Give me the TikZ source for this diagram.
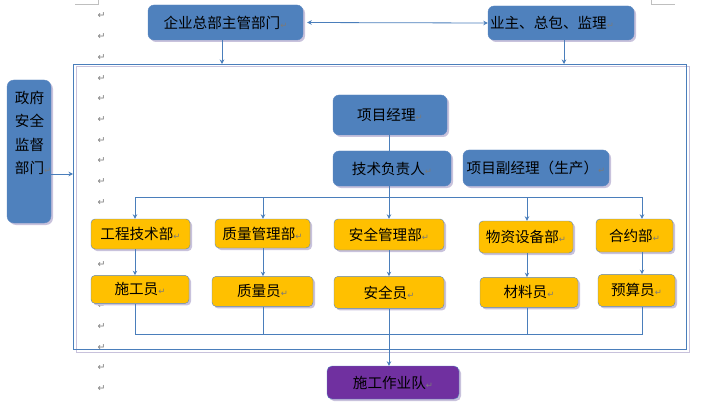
\documentclass[tikz,border=0pt]{standalone}
\usepackage{fontspec}
\setmainfont{Noto Sans CJK SC}
\newfontfamily\symfont{DejaVu Sans}
\usetikzlibrary{arrows.meta, positioning, shadows}
\definecolor{boxblue}{HTML}{4F81BD}
\definecolor{boxedge}{HTML}{5B86C0}
\definecolor{boxyellow}{HTML}{FFC000}
\definecolor{boxpurple}{HTML}{7030A0}
\definecolor{linkblue}{HTML}{4A7EBB}
\definecolor{lavshadow}{HTML}{C8C2DC}
\definecolor{markgray}{HTML}{7A7A7A}
\definecolor{cropgray}{HTML}{BFBFBF}
\newcommand{\retmark}{{\symfont\fontsize{8.5}{8.5}\selectfont\textcolor{markgray}{↵}}}

\begin{document}
\begin{tikzpicture}[x=1pt, y=-1pt, font=\fontsize{14.6}{16}\selectfont,
    >={Stealth[length=4.5pt,width=4.5pt]},
    link/.style={draw=linkblue, line width=0.8pt},
    bluebox/.style={draw=boxedge, fill=boxblue, rounded corners=6pt, inner sep=2pt,
        drop shadow={shadow xshift=2pt, shadow yshift=-2pt, fill=lavshadow, opacity=1}},
    yellowbox/.style={draw=boxedge, fill=boxyellow, rounded corners=4pt, inner sep=2pt,
        drop shadow={shadow xshift=2pt, shadow yshift=-2pt, fill=lavshadow, opacity=1}},
    purplebox/.style={draw=boxedge, fill=boxpurple, rounded corners=5pt, inner sep=2pt,
        drop shadow={shadow xshift=2pt, shadow yshift=-2pt, fill=lavshadow, opacity=1}}]
                \useasboundingbox (0,0) rectangle (716,404);
                % page marks (the ones under the boxes are hidden)
                \draw[cropgray, line width=0.6pt] (75,4) -- (98,4) -- (98,0);
                \draw[cropgray, line width=0.6pt] (651,0) -- (651,4) -- (675,4);
                \foreach \i in {0,...,9,12,14,15,16,17,18}
                    \node[inner sep=0pt, font=\symfont\fontsize{9.5}{9.5}\selectfont, text=markgray] (pmark\i) at (101.5,16+20.7*\i) {↵};
                % frame
                \coordinate (fnw) at (73,64);
                \coordinate (fse) at (686,349);
                \draw[lavshadow, line width=1pt] ([shift={(3pt,-3pt)}]fnw) rectangle ([shift={(3pt,-3pt)}]fse);
                \draw[linkblue, line width=0.9pt] (fnw) rectangle (fse);
                % top row
                \node[bluebox, minimum width=155pt, minimum height=35pt] (hq) at (225.5,22.5) {企业总部主管部门\retmark};
                \node[bluebox, text width=142pt, align=left, minimum height=34pt] (owner) at (561,23) {业主、总包、监理\retmark};
                \node[bluebox, rounded corners=7pt, minimum width=44pt, minimum height=143pt] (gov) at (29,151.5) {};
                \node[anchor=north west, align=left, inner sep=2pt, font=\fontsize{14.6}{23.5}\selectfont] (govtext)
                    at ([xshift=6pt,yshift=-9pt]gov.north west) {政府\\安全\\监督\\部门\retmark};
                % project management
                \node[bluebox, minimum width=114pt, minimum height=40pt] (pm) at (390,115) {项目经理\retmark};
                \node[bluebox, minimum width=118pt, minimum height=35pt] (tech) at (392,168.5) {技术负责人\retmark};
                \node[bluebox, minimum width=146pt, minimum height=36pt] (dpm) at (536,168) {项目副经理（生产）\retmark};
                % departments
                \node[yellowbox, minimum width=99pt, minimum height=30pt] (eng) at (140.5,234) {工程技术部\retmark};
                \node[yellowbox, minimum width=95pt, minimum height=29pt] (qm) at (262.5,233.5) {质量管理部\retmark};
                \node[yellowbox, minimum width=110pt, minimum height=31pt] (sm) at (389,234.5) {安全管理部\retmark};
                \node[yellowbox, minimum width=94pt, minimum height=32pt] (mat) at (526,237) {物资设备部\retmark};
                \node[yellowbox, minimum width=77pt, minimum height=33pt] (con) at (634.5,235.5) {合约部\retmark};
                % staff
                \node[yellowbox, minimum width=98pt, minimum height=28pt, below=26pt of eng, xshift=-0.5pt] (cons) {施工员\retmark};
                \node[yellowbox, minimum width=101pt, minimum height=30pt, below=28pt of qm] (qi) {质量员\retmark};
                \node[yellowbox, minimum width=110pt, minimum height=32pt, below=26pt of sm] (si) {安全员\retmark};
                \node[yellowbox, minimum width=98pt, minimum height=30pt, below=24pt of mat, xshift=3pt] (mi) {材料员\retmark};
                \node[yellowbox, minimum width=77pt, minimum height=32pt, below=22pt of con, xshift=2pt] (bud) {预算员\retmark};
                \node[purplebox, minimum width=132pt, minimum height=33pt] (crew) at (393,382.5) {施工作业队\retmark};
                % connectors
                \draw[link, <->, shorten <=4pt] (hq.east) -- (owner.west);
                \draw[link, ->] ([xshift=-3.5pt]hq.south) -- ([xshift=-3.5pt]hq.south |- fnw);
                \draw[link, ->] ([xshift=3pt]owner.south) -- ([xshift=3pt]owner.south |- fnw);
                \draw[link, ->] ([yshift=-22.5pt]gov.east) -- ([yshift=-22.5pt]gov.east -| fnw);
                \draw[link] ([xshift=-1pt]pm.south) -- ([xshift=-1pt]pm.south |- tech.north);
                \coordinate (top1) at (135,197);
                \coordinate (top2) at (263,197);
                \coordinate (top3) at (389,197);
                \coordinate (top4) at (527,197);
                \coordinate (top5) at (642,197);
                \coordinate (bot1) at (135,334);
                \coordinate (bot5) at (643,334);
                \draw[link] ([xshift=-3pt]tech.south) -- ([xshift=-3pt]tech.south |- top1);
                \draw[link] (top1) -- ([xshift=1pt]top5);
                \foreach \t/\d/\s in {top1/eng/cons, top2/qm/qi, top3/sm/si, top4/mat/mi, top5/con/bud} {
                    \draw[link, ->] (\t) -- (\t |- \d.north);
                    \draw[link, ->] (\t |- \d.south) -- (\t |- \s.north);
                }
                \foreach \t/\s in {top1/cons, top2/qi, top4/mi, top5/bud}
                    \draw[link] (\t |- \s.south) -- (\t |- bot1);
                \draw[link] (bot1) -- (bot5);
                \draw[link, ->] (si.south) -- (si.south |- crew.north);
            \end{tikzpicture}
\end{document}
